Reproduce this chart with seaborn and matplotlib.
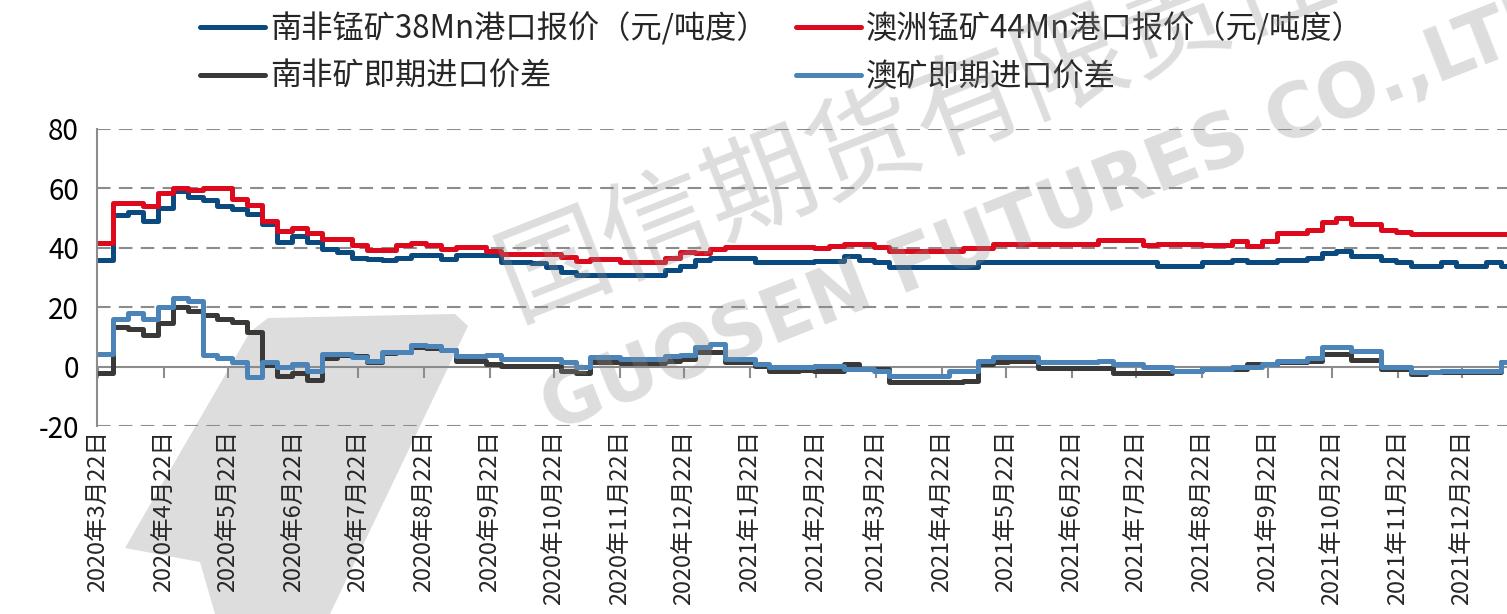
import numpy as np
import pandas as pd
import matplotlib
matplotlib.use("Agg")
import matplotlib.pyplot as plt
import matplotlib.dates as mdates
from matplotlib.ticker import FuncFormatter
from matplotlib.patches import Polygon
import seaborn as sns

# ===========================
# data (weekly readings, 2020-03-22 onward)
# ===========================
start_date = "2020-03-22"
n_weeks = 96

sa_price = [36, 51, 52, 49, 53.5, 59, 57, 56, 54, 53, 51.5, 48, 42, 44, 42, 39.5, 38.5, 36.5, 36.3, 35.8, 36.5, 37.7, 37.7, 36.3,
            37.5, 37.5, 37.5, 35.3, 35.3, 35, 33.4, 32, 30.8, 30.8, 30.8, 30.8, 30.8, 30.8, 32.5, 34, 35.8, 36.4, 36.4, 36.4, 35.3, 35.3, 35.3, 35.3,
            35.5, 35.5, 37.2, 35.8, 35.3, 33.6, 33.6, 33.6, 33.6, 33.6, 33.6, 35.3, 35.3, 35.3, 35.3, 35.3, 35.3, 35.3, 35.3, 35.3, 35.3, 35.3, 35.3,
            33.8, 33.8, 33.8, 35.3, 35.3, 36, 35.3, 35.3, 35.8, 35.8, 36.5, 38.3, 38.9, 37.2, 37.2, 35.8, 35.3, 33.8, 33.8, 35.3, 33.8, 33.8, 35.3, 33.8, 33.8]

au_price = [41.5, 55, 55, 54, 58.5, 60, 59.5, 60, 60, 56.5, 54.5, 49, 45.5, 46.5, 45, 43, 43, 41, 39.4, 39.4, 41, 41.5, 41, 39.5,
            40.3, 40.3, 38.9, 37.9, 37.9, 37.9, 37.9, 37, 35.5, 36.2, 36.2, 35.3, 35.3, 35.3, 36.4, 38.6, 38.4, 39.5, 40.3, 40.3, 40.3, 40.3, 40.3, 40.3,
            40, 40.5, 41.2, 41.2, 40.3, 38.9, 38.9, 38.9, 38.9, 38.9, 40, 40, 41.2, 41.2, 41.2, 41.2, 41.2, 41.2, 41.2, 42.6, 42.6, 42.6, 41,
            41.2, 41.2, 41.2, 40.9, 40.9, 42.3, 40.7, 42.3, 45.1, 45.1, 46, 48.8, 50.1, 47.9, 47.9, 46, 45.2, 44.5, 44.5, 44.5, 44.5, 44.5, 44.5, 44.5, 44.5]

sa_spread = [-2, 13.5, 12.5, 10.5, 14.6, 20, 18.6, 17.5, 16, 15, 11.5, 0.5, -3, -2, -4.5, 3, 3.8, 3.5, 1.5, 4.5, 5, 6.5, 6.3, 5.5,
             2, 2, 1, 0.3, 0.3, 0.3, 0.3, -1.4, -2, 1.5, 1.5, 1.1, 1.1, 1.1, 2, 2.5, 4.8, 4.8, 1.5, 1.5, 0.3, -1.4, -1.4, -1,
             -1.6, -1.6, 0.9, -0.8, -0.8, -5.3, -5.3, -5.3, -5.3, -5.3, -4.7, 0.9, 1.5, 2, 2, -0.6, -0.6, -0.6, -0.6, -0.6, -2.3, -2.3, -2.3,
             -2.3, -1.4, -1.4, -0.8, -0.8, -0.8, 0.9, 0.9, 1.5, 1.5, 2, 4.3, 4.3, 2.3, 2.3, -0.8, -0.8, -2.5, -1.9, -1.9, -1.9, -1.9, -1.9, 1.5, 1.5]

au_spread = [4.3, 16, 18, 16, 20, 23, 22, 4, 3, 1.5, -3.5, 1.5, -0.2, 0.9, -1.4, 4.3, 4.3, 3.2, 2, 4.9, 5, 7.2, 6.8, 5.5,
             3.7, 3.7, 4, 2.6, 2.6, 2.6, 2.6, 1.5, 0, 3.4, 3.4, 2.6, 2.6, 2.6, 3.7, 4, 6.5, 7.7, 2.6, 2.6, 0.9, -0.2, -0.2, 0,
             0.3, 0.3, -0.8, -0.8, -1.4, -3, -3, -3, -3, -1.6, -1.6, 2, 3.4, 3.4, 3.4, 1.5, 1.5, 1.5, 1.5, 2, 0.9, 0.9, 0,
             0, -1.4, -1.4, -0.8, -0.8, 0, 0, 0.9, 2, 2, 3, 6.5, 6.5, 5.2, 5.2, -0.2, -0.2, -1.9, -1.9, -1.6, -1.6, -1.6, -1.6, 1.5, 1.5]

labels = ["南非锰矿38Mn港口报价（元/吨度）", "澳洲锰矿44Mn港口报价（元/吨度）",
          "南非矿即期进口价差", "澳矿即期进口价差"]
colors = ["#0A4A7E", "#DC0A1C", "#3B3838", "#4A84B8"]

dates = pd.date_range(start_date, periods=n_weeks, freq="7D")
df = pd.DataFrame({"date": dates, labels[0]: sa_price, labels[1]: au_price,
                   labels[2]: sa_spread, labels[3]: au_spread})

# ===========================
# plot
# ===========================
sns.set_style("white")
plt.rcParams["font.family"] = ["Noto Sans CJK SC", "DejaVu Sans"]
plt.rcParams["axes.unicode_minus"] = False

W, H = 1507, 614
fig = plt.figure(figsize=(W / 100, H / 100), dpi=100)
ax = fig.add_axes([97 / W, 1 - 426 / H, 1 - 97 / W, 297 / H])
ax.patch.set_facecolor("none")


def px(x, y):
    # pixel position (from top-left) -> figure fraction
    return (x / W, 1 - y / H)


# logo watermark shape, behind the axes
logo_pts = [px(125, 548), px(250, 332), px(268, 318), px(455, 314), px(468, 326),
            px(330, 614), px(215, 614), px(200, 562)]
fig.add_artist(Polygon(logo_pts, closed=True, transform=fig.transFigure,
                       facecolor="#DDDDDD", edgecolor="none", zorder=-1))

for lab, col in zip(labels, colors):
    sns.lineplot(data=df, x="date", y=lab, ax=ax, color=col, lw=3.6,
                 drawstyle="steps-post", label=lab, legend=False)

ax.set_ylim(-20, 80)
ax.set_yticks([-20, 0, 20, 40, 60, 80])
ax.set_xlim(pd.Timestamp("2020-03-21 12:00"), pd.Timestamp("2022-01-12"))
ax.set_xlabel("")
ax.set_ylabel("")

grid_col = "#8C8C8C"
for v in [-20, 20, 40, 60, 80]:
    ax.axhline(v, color=grid_col, lw=1.5, ls=(0, (6.5, 4)), zorder=1)

for s in ["top", "right", "bottom"]:
    ax.spines[s].set_visible(False)
ax.spines["left"].set_color(grid_col)
ax.spines["left"].set_linewidth(1.5)
ax.tick_params(axis="y", direction="out", length=9, width=1.5, color=grid_col,
               labelsize=20, pad=4, labelcolor="black")

ax.xaxis.set_major_locator(mdates.MonthLocator(bymonthday=22))
ax.xaxis.set_major_formatter(FuncFormatter(
    lambda x, pos: "{}年{}月{}日".format(mdates.num2date(x).year, mdates.num2date(x).month, mdates.num2date(x).day)))
ax.tick_params(axis="x", length=0, labelsize=17, rotation=90, pad=3)

# category axis drawn at zero
sec = ax.secondary_xaxis(0.2)
sec.xaxis.set_major_locator(mdates.MonthLocator(bymonthday=22))
sec.set_xticklabels([])
sec.tick_params(axis="x", direction="out", length=8, width=1.5, color=grid_col)
sec.spines["bottom"].set_color(grid_col)
sec.spines["bottom"].set_linewidth(1.5)

# legend: two rows
h, l = ax.get_legend_handles_labels()
order = [0, 2, 1, 3]
fig.legend([h[i] for i in order], [l[i] for i in order], ncol=2, frameon=False,
           loc="upper left", bbox_to_anchor=px(200, 12),
           fontsize=22.5, handlelength=2.08, handletextpad=0.16, columnspacing=0.9,
           labelspacing=0.5, borderpad=0, borderaxespad=0)

# text watermark
fig.text(*px(515, 318), "国信期货有限责任公司", fontsize=80,
         color="#8F8F8F", alpha=0.3, rotation=21.5, rotation_mode="anchor",
         ha="left", va="baseline", zorder=10)
fig.text(*px(553, 432), "GUOSEN FUTURES CO.,LTD", family="DejaVu Sans",
         fontsize=53, fontweight="bold", color="#8F8F8F", alpha=0.3,
         rotation=21.5, rotation_mode="anchor", ha="left", va="baseline", zorder=10)

plt.savefig("out.png", dpi=100)
plt.close()
